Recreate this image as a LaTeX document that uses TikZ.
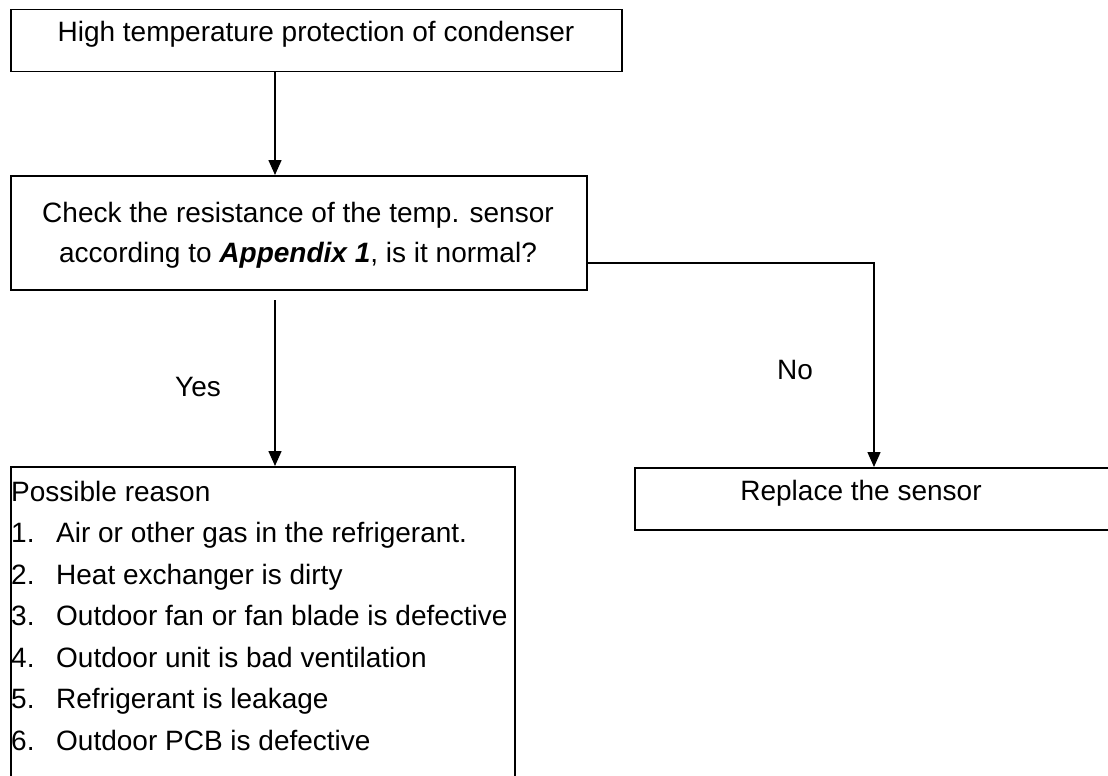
\documentclass[tikz,border=0pt]{standalone}
\usepackage{fontspec}
\setmainfont{Liberation Sans}
\usetikzlibrary{arrows.meta}
\begin{document}
\begin{tikzpicture}[x=1pt,y=-1pt,
  box/.style={draw=black,line width=1.5pt,anchor=north west,inner sep=0pt},
  txt/.style={font=\fontsize{28}{34}\selectfont,inner sep=0pt,anchor=base},
  ltxt/.style={font=\fontsize{28}{34}\selectfont,inner sep=0pt,anchor=base west},
  arr/.style={line width=1.5pt,-{Triangle[length=15pt,width=13pt]}}]
\useasboundingbox (0,0) rectangle (1108,776);
\fill[white] (0,0) rectangle (1108,776);
% boxes
\node[box,minimum width=611pt,minimum height=62pt] (b1) at (10,9) {};
\node[box,minimum width=576pt,minimum height=114pt] (b2) at (10,175) {};
\node[box,minimum width=504pt,minimum height=340pt] (b3) at (10,466) {};
\node[box,minimum width=500pt,minimum height=62pt] (b4) at (634,467) {};
% texts
\node[txt] (t1) at (316,42) {High temperature protection of condenser};
\node[txt] (t2a) at (298,222) {Check the resistance of the temp. sensor};
\node[txt] (t2b) at (298,262) {according to \textbf{\textit{Appendix 1}}, is it normal?};
\node[txt] (t4) at (861,500) {Replace the sensor};
\node[txt] (yes) at (198,396) {Yes};
\node[txt] (no) at (795,379) {No};
\node[ltxt] (r0) at (11,501) {Possible reason};
\node[ltxt] (n1) at (11,542.5) {1.};
\node[ltxt] (r1) at (56,542.5) {Air or other gas in the refrigerant.};
\node[ltxt] (n2) at (11,584) {2.};
\node[ltxt] (r2) at (56,584) {Heat exchanger is dirty};
\node[ltxt] (n3) at (11,625.5) {3.};
\node[ltxt] (r3) at (56,625.5) {Outdoor fan or fan blade is defective};
\node[ltxt] (n4) at (11,667) {4.};
\node[ltxt] (r4) at (56,667) {Outdoor unit is bad ventilation};
\node[ltxt] (n5) at (11,708.5) {5.};
\node[ltxt] (r5) at (56,708.5) {Refrigerant is leakage};
\node[ltxt] (n6) at (11,750) {6.};
\node[ltxt] (r6) at (56,750) {Outdoor PCB is defective};
% connectors
\coordinate (c1) at (275,0);
\coordinate (ys) at (275,300);
\coordinate (nr) at (874,263);
\draw[arr] (b1.south -| c1) -- (b2.north -| c1);
\draw[arr] (ys) -- (b3.north -| ys);
\draw[arr] (b2.east |- nr) -- (nr) -- (b4.north -| nr);
\end{tikzpicture}
\end{document}
